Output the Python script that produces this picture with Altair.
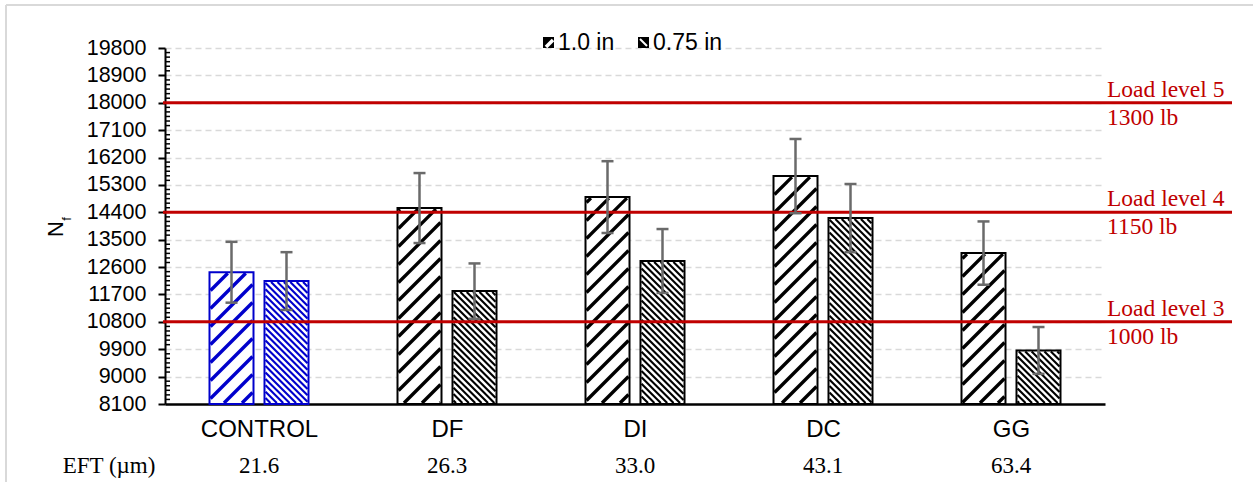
import math

import altair as alt
import pandas as pd

# ---- values -------------------------------------------------------------
groups = ["CONTROL", "DF", "DI", "DC", "GG"]
eft_um = ["21.6", "26.3", "33.0", "43.1", "63.4"]
nf_1in = [12430, 14540, 14900, 15590, 13060]
nf_075in = [12140, 11810, 12800, 14210, 9860]
sd_1in = [1000, 1150, 1180, 1220, 1040]
sd_075in = [950, 910, 1050, 1120, 770]
load_levels = [18000, 14400, 10800]
load_names = ["Load level 5", "Load level 4", "Load level 3"]
load_lb = ["1300 lb", "1150 lb", "1000 lb"]
y_ticks = [8100, 9000, 9900, 10800, 11700, 12600, 13500, 14400,
           15300, 16200, 17100, 18000, 18900, 19800]
series = ["1.0 in", "0.75 in"]

# ---- geometry / style ---------------------------------------------------
W, H = 940, 356
LEFT, TOP = 165, 48
Y_MIN, Y_MAX = y_ticks[0], y_ticks[-1]
X_STEP = W / len(groups)          # pixels per category
BAR_W, BAR_GAP = 44, 11
BLUE, BLACK, RED, GREY = "#0000CC", "#000000", "#C00000", "#6a6a6a"
SANS, SERIF = "Liberation Sans", "Liberation Serif"

xs = alt.Scale(domain=[0, len(groups)], nice=False, zero=False)
ys = alt.Scale(domain=[Y_MIN, Y_MAX], nice=False, zero=False)


def px_x(d):
    return d * X_STEP


def data_x(p):
    return p / X_STEP


def px_y(v):
    return (Y_MAX - v) * H / (Y_MAX - Y_MIN)


def data_y(p):
    return Y_MAX - p * (Y_MAX - Y_MIN) / H


def hatch(x0, x1, y0, y1, period, rising):
    """Diagonal 45-degree stripes clipped to a pixel rectangle."""
    segs = []
    if rising:  # x + y = c
        c = math.floor((x0 + y0) / period) * period
        while c <= x1 + y1:
            lo, hi = max(x0, c - y1), min(x1, c - y0)
            if hi - lo > 0.3:
                segs.append((lo, c - lo, hi, c - hi))
            c += period
    else:       # y - x = c
        c = math.floor((y0 - x1) / period) * period
        while c <= y1 - x0:
            lo, hi = max(x0, y0 - c), min(x1, y1 - c)
            if hi - lo > 0.3:
                segs.append((lo, lo + c, hi, hi + c))
            c += period
    return segs


bar_rows, wide_rows, fine_rows = [], [], []
for i, g in enumerate(groups):
    center = i + 0.5
    col = BLUE if g == "CONTROL" else BLACK
    for s, vals, sds in ((series[0], nf_1in, sd_1in), (series[1], nf_075in, sd_075in)):
        if s == series[0]:
            lo = center - data_x(BAR_GAP / 2 + BAR_W)
        else:
            lo = center + data_x(BAR_GAP / 2)
        hi = lo + data_x(BAR_W)
        v, sd = vals[i], sds[i]
        mid = (lo + hi) / 2
        cap = data_x(6)
        bar_rows.append(dict(group=g, series=s, lo=lo, hi=hi, mid=mid, v=v,
                             base=Y_MIN, top=v + sd, bot=v - sd,
                             cap_lo=mid - cap, cap_hi=mid + cap, col=col))
        x0, x1 = px_x(lo) + 1, px_x(hi) - 1
        y0, y1 = px_y(v) + 1, px_y(Y_MIN) - 1
        if s == series[0]:
            segs, target = hatch(x0, x1, y0, y1, 18, True), wide_rows
        else:
            segs, target = hatch(x0, x1, y0, y1, 6.4, False), fine_rows
        for a, b, c, d in segs:
            target.append(dict(x=data_x(a), y=data_y(b), x2=data_x(c), y2=data_y(d), col=col))

bars = pd.DataFrame(bar_rows)
wide = pd.DataFrame(wide_rows)
fine = pd.DataFrame(fine_rows)
loads = pd.DataFrame({"load": load_levels, "name": load_names, "lb": load_lb})
cats = pd.DataFrame({"group": groups, "eft": eft_um,
                     "c": [i + 0.5 for i in range(len(groups))]})
minor = pd.DataFrame({"t": [t for t in range(Y_MIN, Y_MAX + 1, 150)
                            if (t - Y_MIN) % 900 != 0]})
one = pd.DataFrame({"k": [0]})

label_expr = "[" + ",".join(f"'{g}'" for g in groups) + "][floor(datum.value)]"

# ---- layers -------------------------------------------------------------
frame = alt.layer(
    alt.Chart(one).mark_rule(color="#d9d9d9", strokeWidth=2).encode(
        x=alt.value(6 - LEFT), x2=alt.value(1300), y=alt.value(5 - TOP)),
    alt.Chart(one).mark_rule(color="#d9d9d9", strokeWidth=2).encode(
        x=alt.value(6 - LEFT), y=alt.value(5 - TOP), y2=alt.value(500)),
)

base = alt.Chart(bars).mark_rect(color="white").encode(
    x=alt.X("lo:Q", scale=xs, axis=alt.Axis(
        values=[i + 0.5 for i in range(len(groups))], labelExpr=label_expr,
        ticks=False, grid=False, title=None, domainColor=BLACK, domainWidth=2.5,
        labelFont=SANS, labelFontSize=24, labelColor=BLACK, labelPadding=13)),
    x2="hi:Q",
    y=alt.Y("v:Q", scale=ys, axis=alt.Axis(
        values=y_ticks, format="d", title=None, grid=True, gridDash=[6, 4],
        gridColor="#d9d9d9", gridWidth=1.5, domainColor=BLACK, domainWidth=2,
        tickColor=BLACK, tickWidth=2, tickSize=7, labelFont=SANS, labelFontSize=21.5,
        labelColor=BLACK, labelPadding=12, labelFlush=False)),
    y2="base:Q",
)

hatch_wide = alt.Chart(wide).mark_rule(strokeWidth=3.3, strokeCap="butt").encode(
    x=alt.X("x:Q", scale=xs, axis=None), x2="x2:Q",
    y=alt.Y("y:Q", scale=ys, axis=None), y2="y2:Q",
    color=alt.Color("col:N", scale=None))

hatch_fine = alt.Chart(fine).mark_rule(strokeWidth=2.1, strokeCap="butt").encode(
    x=alt.X("x:Q", scale=xs, axis=None), x2="x2:Q",
    y=alt.Y("y:Q", scale=ys, axis=None), y2="y2:Q",
    color=alt.Color("col:N", scale=None))

outline = alt.Chart(bars).mark_rect(fillOpacity=0, strokeWidth=2).encode(
    x=alt.X("lo:Q", scale=xs, axis=None), x2="hi:Q",
    y=alt.Y("v:Q", scale=ys, axis=None), y2="base:Q",
    stroke=alt.Stroke("col:N", scale=None))

minor_ticks = alt.Chart(minor).mark_rule(color=BLACK, strokeWidth=1.5).encode(
    x=alt.value(0), x2=alt.value(5),
    y=alt.Y("t:Q", scale=ys, axis=None))

load_lines = alt.Chart(loads).mark_rule(color=RED, strokeWidth=3).encode(
    x=alt.value(-2), x2=alt.value(1232 - LEFT),
    y=alt.Y("load:Q", scale=ys, axis=None))

load_names_t = alt.Chart(loads).mark_text(
    font=SERIF, fontSize=23.5, color=RED, align="left", baseline="bottom", dy=-1).encode(
    x=alt.value(1107 - LEFT), y=alt.Y("load:Q", scale=ys, axis=None), text="name:N")

load_lb_t = alt.Chart(loads).mark_text(
    font=SERIF, fontSize=23.5, color=RED, align="left", baseline="top", dy=3).encode(
    x=alt.value(1107 - LEFT), y=alt.Y("load:Q", scale=ys, axis=None), text="lb:N")

err_v = alt.Chart(bars).mark_rule(color=GREY, strokeWidth=2.5).encode(
    x=alt.X("mid:Q", scale=xs, axis=None),
    y=alt.Y("bot:Q", scale=ys, axis=None), y2="top:Q")
err_top = alt.Chart(bars).mark_rule(color=GREY, strokeWidth=2.5).encode(
    x=alt.X("cap_lo:Q", scale=xs, axis=None), x2="cap_hi:Q",
    y=alt.Y("top:Q", scale=ys, axis=None))
err_bot = alt.Chart(bars).mark_rule(color=GREY, strokeWidth=2.5).encode(
    x=alt.X("cap_lo:Q", scale=xs, axis=None), x2="cap_hi:Q",
    y=alt.Y("bot:Q", scale=ys, axis=None))

eft_row = alt.Chart(cats).mark_text(
    font=SERIF, fontSize=23, color=BLACK, baseline="middle").encode(
    x=alt.X("c:Q", scale=xs, axis=None), y=alt.value(466 - TOP), text="eft:N")
eft_head = alt.Chart(one).mark_text(
    font=SERIF, fontSize=23, color=BLACK, baseline="middle", text="EFT (µm)").encode(
    x=alt.value(109 - LEFT), y=alt.value(466 - TOP))

y_title = alt.layer(
    alt.Chart(one).mark_text(font=SANS, fontSize=22, color=BLACK, angle=270,
                             baseline="middle", text="N").encode(
        x=alt.value(56 - LEFT), y=alt.value(229 - TOP)),
    alt.Chart(one).mark_text(font=SANS, fontSize=13, color=BLACK, angle=270,
                             baseline="middle", text="f").encode(
        x=alt.value(67 - LEFT), y=alt.value(219 - TOP)),
)

# legend: two hatched swatches with their labels
sw1_x, sw2_x, sw_y, sw = 543 - LEFT, 638 - LEFT, 37 - TOP, 11
legend = alt.layer(
    alt.Chart(one).mark_rect(color=BLACK).encode(
        x=alt.value(sw1_x), x2=alt.value(sw1_x + sw),
        y=alt.value(sw_y), y2=alt.value(sw_y + sw)),
    alt.Chart(one).mark_rule(color="white", strokeWidth=3.5).encode(
        x=alt.value(sw1_x + 3), x2=alt.value(sw1_x + sw - 1),
        y=alt.value(sw_y + sw - 1), y2=alt.value(sw_y + 3)),
    alt.Chart(one).mark_rect(color=BLACK).encode(
        x=alt.value(sw2_x), x2=alt.value(sw2_x + sw),
        y=alt.value(sw_y), y2=alt.value(sw_y + sw)),
    alt.Chart(one).mark_rule(color="white", strokeWidth=2).encode(
        x=alt.value(sw2_x + 2), x2=alt.value(sw2_x + sw - 2),
        y=alt.value(sw_y + 2), y2=alt.value(sw_y + sw - 2)),
    alt.Chart(one).mark_text(font=SANS, fontSize=23, color=BLACK, align="left",
                             baseline="middle", text=series[0]).encode(
        x=alt.value(sw1_x + sw + 4), y=alt.value(sw_y + 6)),
    alt.Chart(one).mark_text(font=SANS, fontSize=23, color=BLACK, align="left",
                             baseline="middle", text=series[1]).encode(
        x=alt.value(sw2_x + sw + 4), y=alt.value(sw_y + 6)),
)

chart = alt.layer(
    frame, base, hatch_wide, hatch_fine, outline, minor_ticks, load_lines,
    err_v, err_top, err_bot, load_names_t, load_lb_t, eft_row, eft_head,
    y_title, legend,
).resolve_axis(
    x="independent", y="independent",
).properties(
    width=W, height=H,
    autosize=alt.AutoSizeParams(type="none"),
    padding={"left": LEFT, "top": TOP, "right": 1253 - LEFT - W, "bottom": 482 - TOP - H},
    background="white",
).configure_view(stroke=None)

chart.save("out.html", embed_options={"renderer": "svg", "actions": False})
